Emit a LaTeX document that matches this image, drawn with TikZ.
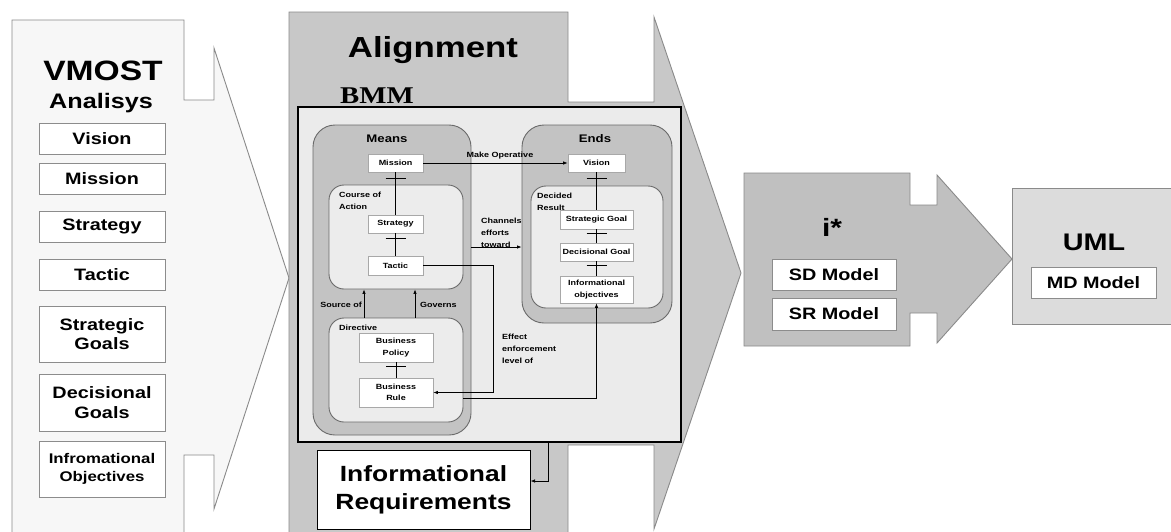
\documentclass[tikz,border=0pt]{standalone}
\usepackage{fontspec}
\setmainfont{Liberation Sans}[FakeStretch=1.2]
\newfontfamily\bmmfont{Liberation Serif}[FakeStretch=1.2]
\usetikzlibrary{arrows.meta,decorations.markings}

\definecolor{stageline}{HTML}{8A8A8A}
\definecolor{vmostfill}{HTML}{F7F7F7}
\definecolor{alignfill}{HTML}{C8C8C8}
\definecolor{istarfill}{HTML}{C0C0C0}
\definecolor{umlfill}{HTML}{DCDCDC}
\definecolor{bmmfill}{HTML}{EBEBEB}
\definecolor{groupfill}{HTML}{C3C3C3}
\definecolor{subfill}{HTML}{ECECEC}
\definecolor{groupline}{HTML}{6A6A6A}
\definecolor{boxline}{HTML}{8C8C8C}
\definecolor{sboxline}{HTML}{A8A8A8}

\newcommand\fsz[2]{\fontsize{#1}{#2}\selectfont\bfseries}

\begin{document}
\begin{tikzpicture}[x=1pt, y=-1pt,
  stage/.style={draw=stageline, line width=0.9pt, line join=miter},
  wh/.style 2 args={minimum width=#1pt, minimum height=#2pt},
  vbox/.style={draw=boxline, fill=white, line width=0.9pt, inner sep=0pt,
    align=center, font=\fsz{16.5}{19.5}},
  sbox/.style={draw=sboxline, fill=white, line width=0.8pt, inner sep=0pt,
    align=center, font=\fsz{7.5}{11.5}},
  outergrp/.style={draw=groupline, fill=groupfill, line width=0.9pt,
    rounded corners=22pt, inner sep=0pt},
  subgrp/.style={draw=groupline, fill=subfill, line width=0.9pt,
    rounded corners=15pt, inner sep=0pt},
  title/.style={inner sep=0pt, anchor=base},
  small/.style={inner sep=0pt, font=\fsz{7.5}{12}},
  conn/.style={draw=black, line width=0.7pt},
  arr/.style={conn, -{Latex[length=4.5pt,width=3.5pt]}},
  tick/.style={postaction={decorate, decoration={markings,
    mark=at position #1 with {\draw[line width=0.7pt] (0pt,-10pt) -- (0pt,10pt);}}}}
]
\useasboundingbox (0,0) rectangle (1171,531);
\clip (0,0) rectangle (1171,531);
\fill[white] (0,0) rectangle (1171,531);

% ---- VMOST stage arrow ----
\draw[stage, fill=vmostfill] (12,20) -- (184,20) -- (184,100) -- (214,100) -- (214,48)
  -- (289,278) -- (214,509) -- (214,455) -- (184,455) -- (184,545) -- (12,545) -- cycle;
\node[title, font=\fsz{28}{30}] (vmost) at (103,80) {VMOST};
\node[title, font=\fsz{21}{24}] (analisys) at (101,108) {Analisys};
\node[vbox, wh={126}{31}] (vvision)   at (102,138.5) {Vision};
\node[vbox, wh={126}{31}] (vmission)  at (102,178.5) {Mission};
\node[vbox, wh={126}{31}] (vstrategy) at (102,226.5) {Strategy};
\node[vbox, wh={126}{31}] (vtactic)   at (102,274.5) {Tactic};
\node[vbox, wh={126}{56}] (vsgoals)   at (102,334) {Strategic\\Goals};
\node[vbox, wh={126}{57}] (vdgoals)   at (102,402.5) {Decisional\\Goals};
\node[vbox, wh={126}{56}, font=\fsz{14}{18}] (vinfobj) at (102,469) {Infromational\\Objectives};

% ---- Alignment stage arrow ----
\draw[stage, fill=alignfill] (289,12) -- (568,12) -- (568,102) -- (654,102) -- (654,17)
  -- (741,273) -- (654,529) -- (654,445) -- (568,445) -- (568,545) -- (289,545) -- cycle;
\node[title, font=\fsz{29}{32}] (alignment) at (433,57) {Alignment};
\node[title, font=\bmmfont\fontsize{24}{26}\selectfont\bfseries] (bmmlabel) at (377,103) {BMM};

% ---- BMM model ----
\node[draw=black, fill=bmmfill, line width=1.4pt, inner sep=0pt, wh={383}{335}] (bmm) at (489.5,274.5) {};

\node[outergrp, wh={158}{310}] (means) at (392,280) {};
\node[outergrp, wh={150}{198}] (ends) at (597,224) {};
\node[title, font=\fsz{11}{13}] (meanstitle) at (387,142) {Means};
\node[title, font=\fsz{11}{13}] (endstitle) at (595,142) {Ends};

\node[subgrp, wh={134}{104}] (coa) at (396,237) {};
\node[subgrp, wh={134}{104}] (directive) at (396,370) {};
\node[subgrp, wh={132}{122}] (decided) at (597,247) {};

\node[small, anchor=north west, align=left] (coalabel) at (339,191.5) {Course of\\Action};
\node[small, anchor=base west] (dirlabel) at (339,330) {Directive};

\node[sbox, wh={55}{18}] (mission)  at (395.5,163) {Mission};
\node[sbox, wh={55}{18}] (strategy) at (395.5,224) {Strategy};
\node[sbox, wh={55}{19}] (tactic)   at (395.5,265.5) {Tactic};
\node[sbox, wh={74}{29}] (bpolicy)  at (396,347.5) {Business\\Policy};
\node[sbox, wh={74}{29}] (brule)    at (396,392.5) {Business\\Rule};

\node[sbox, wh={57}{18}] (vision) at (596.5,163) {Vision};
\node[sbox, wh={73}{19}] (sgoal)  at (596.5,219.5) {Strategic Goal};
\node[sbox, wh={73}{18}] (dgoal)  at (596.5,252) {Decisional Goal};
\node[sbox, wh={73}{27}] (infobj) at (596.5,289.5) {Informational\\objectives};

% the group label sits over the top edge of the first goal box
\node[small, anchor=north west, align=left] (declabel) at (537,192.5) {Decided\\Result};

% composition links with cross bars
\draw[conn, tick=6pt] (mission.south) -- (strategy.north);
\draw[conn, tick=5pt] (strategy.south) -- (tactic.north);
\draw[conn, tick=4pt] (bpolicy.south) -- (brule.north);
\draw[conn, tick=6pt] (vision.south) -- (sgoal.north);
\draw[conn, tick=4pt] (sgoal.south) -- (dgoal.north);
\draw[conn, tick=4pt] (dgoal.south) -- (infobj.north);

% relations between means and ends
\coordinate (chan) at (0,247);
\coordinate (srcx) at (364,0);
\coordinate (govx) at (415,0);
\coordinate (tacx) at (493,0);

\draw[arr] (mission.east) -- (vision.west);
\node[title, font=\fsz{7.5}{9}] (makeop) at (500,157) {Make Operative};

\draw[arr] (means.east |- chan) -- (ends.west |- chan);
\node[small, anchor=north west, align=left] (chanlabel) at (481,217.5) {Channels\\efforts\\toward};

\draw[arr] (directive.north -| srcx) -- (coa.south -| srcx);
\draw[arr] (directive.north -| govx) -- (coa.south -| govx);
\node[small, anchor=base east] (srclabel) at (362,307) {Source of};
\node[small, anchor=base west] (govlabel) at (420,307) {Governs};

\draw[arr] (tactic.east) -- (tactic.east -| tacx) |- (brule.east);

\draw[arr] ([yshift=-28pt]directive.east) -| (infobj.south);
\node[small, anchor=north west, align=left] (efflabel) at (502,333.5) {Effect\\enforcement\\level of};

% ---- Informational requirements ----
\coordinate (irx) at (548,0);
\node[draw=black, fill=white, line width=1pt, inner sep=0pt, align=center,
  font=\fsz{22}{28}, wh={213}{79}] (inforeq) at (423.5,489.5) {Informational\\Requirements};
\draw[arr] (bmm.south -| irx) |- ([yshift=8.5pt]inforeq.east);

% ---- i* stage arrow ----
\draw[stage, fill=istarfill] (744,173) -- (910,173) -- (910,205) -- (937,205) -- (937,175)
  -- (1012,259) -- (937,343) -- (937,313) -- (910,313) -- (910,346) -- (744,346) -- cycle;
\node[title, font=\fsz{25}{28}] (istar) at (832,236) {i*};
\node[vbox, wh={124}{31}] (sd) at (834,274.5) {SD Model};
\node[vbox, wh={124}{32}] (sr) at (834,314) {SR Model};

% ---- UML stage ----
\node[stage, fill=umlfill, inner sep=0pt, wh={168}{136}] (uml) at (1096,256) {};
\node[title, font=\fsz{24}{27}] (umltitle) at (1094,250) {UML};
\node[vbox, wh={125}{31}] (md) at (1093.5,282.5) {MD Model};
\end{tikzpicture}
\end{document}
